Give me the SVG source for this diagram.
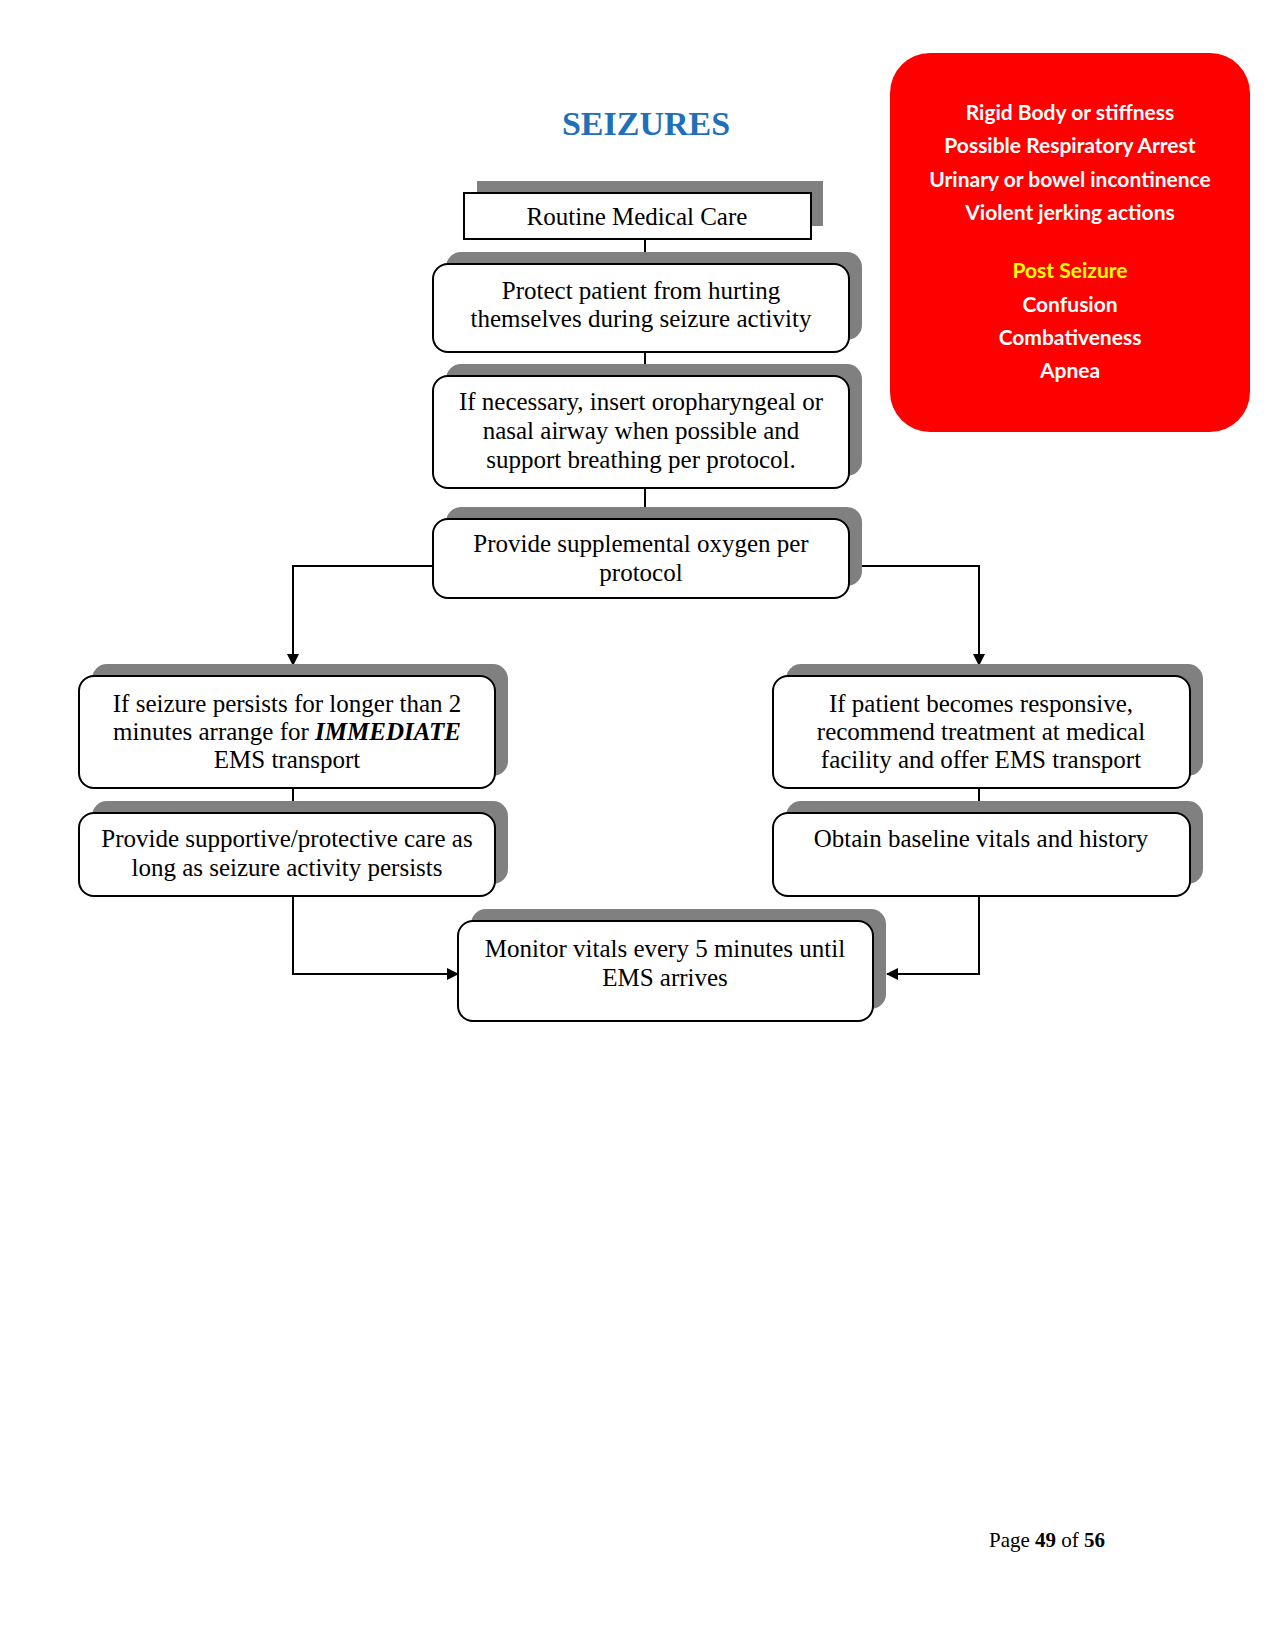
<svg xmlns="http://www.w3.org/2000/svg" width="1275" height="1651" viewBox="0 0 1275 1651">
<defs>
<style>
.sh{fill:#808080;stroke:none}
.bx{fill:#ffffff;stroke:#000000;stroke-width:2}
.t{font-family:"Liberation Serif","Times New Roman",serif;font-size:25px;fill:#000000;text-anchor:middle}
.r{font-family:Lato,"Open Sans",sans-serif;font-weight:bold;font-size:21px;fill:#ffffff;text-anchor:middle}
.ln{fill:none;stroke:#000000;stroke-width:2}
</style>
<marker id="ah" markerWidth="12" markerHeight="12" refX="11" refY="6" orient="auto" markerUnits="userSpaceOnUse">
<path d="M0,0 L12,6 L0,12 Z" fill="#000000"/>
</marker>
</defs>
<rect width="1275" height="1651" fill="#ffffff"/>
<text x="646" y="135" font-family="Liberation Serif,Times New Roman,serif" font-weight="bold" font-size="34" fill="#1F70B8" text-anchor="middle">SEIZURES</text>

<g id="signs">
<rect x="890" y="53" width="360" height="379" rx="40" ry="40" fill="#ff0000"/>
<text class="r" x="1070" y="120">Rigid Body or stiffness</text>
<text class="r" x="1070" y="153">Possible Respiratory Arrest</text>
<text class="r" x="1070" y="187">Urinary or bowel incontinence</text>
<text class="r" x="1070" y="220">Violent jerking actions</text>
<text class="r" x="1070" y="278" style="fill:#ffff00">Post Seizure</text>
<text class="r" x="1070" y="312">Confusion</text>
<text class="r" x="1070" y="345">Combativeness</text>
<text class="r" x="1070" y="378">Apnea</text>
</g>

<g id="connectors">
<line class="ln" x1="645" y1="239" x2="645" y2="264"/>
<line class="ln" x1="645" y1="352" x2="645" y2="376"/>
<line class="ln" x1="645" y1="488" x2="645" y2="519"/>
<polyline class="ln" points="433,566 293,566 293,665" marker-end="url(#ah)"/>
<polyline class="ln" points="862,566 979,566 979,665" marker-end="url(#ah)"/>
<line class="ln" x1="293" y1="788" x2="293" y2="813"/>
<line class="ln" x1="979" y1="788" x2="979" y2="813"/>
<polyline class="ln" points="293,896 293,974 458,974" marker-end="url(#ah)"/>
<polyline class="ln" points="979,896 979,974 887,974" marker-end="url(#ah)"/>
</g>

<g id="routine">
<rect class="sh" x="477" y="181" width="346" height="45"/>
<rect class="bx" x="464" y="193" width="347" height="46"/>
<text class="t" x="637" y="225">Routine Medical Care</text>
</g>

<g id="protect">
<rect class="sh" x="446" y="252" width="416" height="88" rx="15"/>
<rect class="bx" x="433" y="264" width="416" height="88" rx="15"/>
<text class="t" x="641" y="299">Protect patient from hurting</text>
<text class="t" x="641" y="327">themselves during seizure activity</text>
</g>

<g id="airway">
<rect class="sh" x="446" y="364" width="416" height="112" rx="15"/>
<rect class="bx" x="433" y="376" width="416" height="112" rx="15"/>
<text class="t" x="641" y="410">If necessary, insert oropharyngeal or</text>
<text class="t" x="641" y="439">nasal airway when possible and</text>
<text class="t" x="641" y="468">support breathing per protocol.</text>
</g>

<g id="oxygen">
<rect class="sh" x="446" y="507" width="416" height="79" rx="15"/>
<rect class="bx" x="433" y="519" width="416" height="79" rx="15"/>
<text class="t" x="641" y="552">Provide supplemental oxygen per</text>
<text class="t" x="641" y="581">protocol</text>
</g>

<g id="persists">
<rect class="sh" x="92" y="664" width="416" height="112" rx="15"/>
<rect class="bx" x="79" y="676" width="416" height="112" rx="15"/>
<text class="t" x="287" y="712">If seizure persists for longer than 2</text>
<text class="t" x="287" y="740">minutes arrange for <tspan font-weight="bold" font-style="italic">IMMEDIATE</tspan></text>
<text class="t" x="287" y="768">EMS transport</text>
</g>

<g id="supportive">
<rect class="sh" x="92" y="801" width="416" height="83" rx="15"/>
<rect class="bx" x="79" y="813" width="416" height="83" rx="15"/>
<text class="t" x="287" y="847">Provide supportive/protective care as</text>
<text class="t" x="287" y="876">long as seizure activity persists</text>
</g>

<g id="responsive">
<rect class="sh" x="786" y="664" width="417" height="112" rx="15"/>
<rect class="bx" x="773" y="676" width="417" height="112" rx="15"/>
<text class="t" x="981" y="712">If patient becomes responsive,</text>
<text class="t" x="981" y="740">recommend treatment at medical</text>
<text class="t" x="981" y="768">facility and offer EMS transport</text>
</g>

<g id="baseline">
<rect class="sh" x="786" y="801" width="417" height="83" rx="15"/>
<rect class="bx" x="773" y="813" width="417" height="83" rx="15"/>
<text class="t" x="981" y="847">Obtain baseline vitals and history</text>
</g>

<g id="monitor">
<rect class="sh" x="471" y="909" width="415" height="100" rx="15"/>
<rect class="bx" x="458" y="921" width="415" height="100" rx="15"/>
<text class="t" x="665" y="957">Monitor vitals every 5 minutes until</text>
<text class="t" x="665" y="986">EMS arrives</text>
</g>

<text x="1047" y="1547" font-family="Liberation Serif,Times New Roman,serif" font-size="21" fill="#000000" text-anchor="middle">Page <tspan font-weight="bold">49</tspan> of <tspan font-weight="bold">56</tspan></text>
</svg>
